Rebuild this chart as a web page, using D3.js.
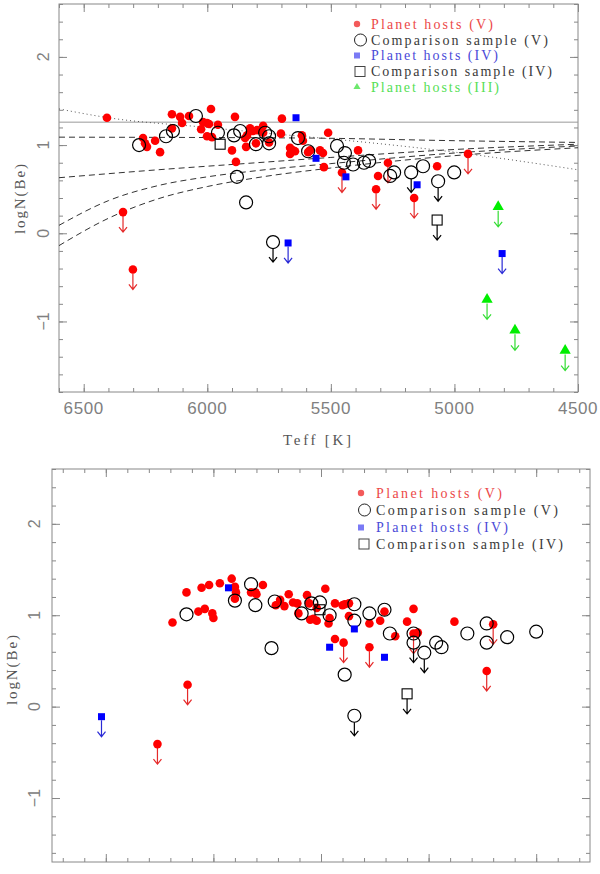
<!DOCTYPE html>
<html>
<head>
<meta charset="utf-8">
<script src="https://cdn.jsdelivr.net/npm/d3@7"></script>
<style>
  body { margin: 0; background: #fff; }
  svg text { font-family: 'Liberation Serif', 'DejaVu Serif', serif; }
  .tick-label { font-family: 'Liberation Sans', 'DejaVu Sans', sans-serif !important; fill: #808080; }
</style>
</head>
<body>
<div id="chart"></div>
<script>
// ---- top panel: logN(Be) vs Teff ----
const teffTicks = [6500, 6000, 5500, 5000, 4500];
const logTicks = [2, 1, 0, -1];

const topHostsV = [
  [6406, 1.31], [6143, 1.35], [6110, 1.32], [6074, 1.33], [5985, 1.41], [5888, 1.32], [5698, 1.30],
  [6143, 1.19], [6102, 1.25], [6025, 1.18], [6017, 1.26], [6001, 1.25], [5993, 1.24], [5957, 1.23],
  [6001, 1.10], [5981, 1.09], [6260, 1.08], [6252, 1.02], [6244, 0.98], [6211, 1.05], [6191, 0.92],
  [5900, 0.94], [5884, 0.81], [5843, 0.98], [5839, 1.11], [5827, 1.19], [5815, 1.16], [5799, 1.17],
  [5774, 1.22], [5847, 1.08], [5803, 1.02], [5750, 1.03], [5702, 1.13], [5774, 1.14], [5665, 0.97],
  [5653, 0.94], [5665, 0.90], [5645, 0.93], [5617, 1.11], [5613, 1.05], [5592, 0.92], [5584, 0.94],
  [5544, 0.94], [5532, 0.91], [5528, 0.75], [5511, 1.14], [5390, 0.94], [5309, 0.65], [5070, 0.76],
];
const topHostsVUL = [[6341, 0.24], [6301, -0.41], [5455, 0.69], [5317, 0.50], [5269, 0.80], [5163, 0.40], [4945, 0.90]];
const topCompV = [
  [6276, 1.00], [6167, 1.10], [6139, 1.16], [6046, 1.33], [5957, 1.14], [5892, 1.11], [5867, 1.16],
  [5803, 1.01], [5766, 1.14], [5750, 1.10], [5750, 1.02], [5633, 1.08], [5592, 0.93], [5475, 0.99],
  [5443, 0.91], [5447, 0.80], [5410, 0.78], [5366, 0.80], [5345, 0.82], [5260, 0.65], [5244, 0.69],
  [5127, 0.76], [5001, 0.69], [5880, 0.64], [5843, 0.35],
];
const topCompVUL = [[5734, -0.10], [5175, 0.69], [5066, 0.59]];
const topCompIV = [[5948, 1.01]];
const topCompIVUL = [[5070, 0.15]];
const topHostsIV = [[5641, 1.31], [5560, 0.85], [5439, 0.64], [5151, 0.55]];
const topHostsIVUL = [[5673, -0.11], [4807, -0.23]];
const topHostsIIIUL = [[4823, 0.30], [4868, -0.75], [4755, -1.10], [4552, -1.33]];

// model curves (dashed), dotted curve and solid reference level
const dashedCurves = [
  [[6600, 1.09], [5600, 1.08], [5000, 1.05], [4500, 1.03]],
  [[6600, 0.63], [6200, 0.72], [5800, 0.80], [5500, 0.86], [5000, 0.95], [4500, 1.01]],
  [[6600, 0.09], [6400, 0.37], [6200, 0.54], [6000, 0.64], [5800, 0.71], [5500, 0.79], [5000, 0.91], [4500, 0.99]],
  [[6600, -0.14], [6400, 0.17], [6200, 0.39], [6000, 0.53], [5800, 0.63], [5500, 0.74], [5000, 0.88], [4500, 0.97]],
];
const dottedCurve = [[6600, 1.41], [6400, 1.31], [6000, 1.20], [5700, 1.12], [5500, 1.07], [5000, 0.92], [4500, 0.72]];
const solidLevel = 1.26;

// ---- bottom panel: same stars, unlabelled abscissa ----
const botMajor = [0.5, 1.5, 2.5, 3.5, 4.5];
const botHostsV = [
  [1.12, 0.92], [1.25, 1.25], [1.36, 1.04], [1.39, 1.30], [1.42, 1.07], [1.46, 1.33], [1.49, 1.02],
  [1.50, 0.97], [1.56, 1.35], [1.67, 1.40], [1.70, 1.31], [1.71, 1.25], [1.70, 1.18], [1.85, 1.25],
  [1.89, 1.25], [1.90, 1.23], [1.96, 1.33], [2.08, 1.11], [2.12, 1.17], [2.16, 1.10], [2.20, 1.23],
  [2.24, 1.14], [2.28, 1.13], [2.29, 1.02], [2.37, 1.22], [2.39, 1.13], [2.43, 0.96], [2.46, 0.94],
  [2.40, 0.95], [2.54, 1.29], [2.46, 1.08], [2.58, 0.97], [2.57, 0.91], [2.63, 1.13], [2.70, 1.11],
  [2.72, 1.12], [2.76, 1.13], [2.76, 0.99], [2.63, 0.74], [2.95, 0.91], [3.05, 0.94], [3.09, 1.04],
  [3.36, 1.07], [3.30, 0.93], [3.40, 0.81], [3.19, 0.77], [3.74, 0.93],
];
const botHostsVUL = [[0.98, -0.41], [1.26, 0.24], [2.71, 0.70], [2.95, 0.65], [3.36, 0.80], [4.10, 0.90], [4.04, 0.39]];
const botCompV = [
  [1.25, 1.01], [1.70, 1.16], [1.85, 1.34], [1.89, 1.11], [2.07, 1.15], [2.32, 1.02], [2.41, 1.13],
  [2.49, 1.14], [2.58, 1.00], [2.04, 0.64], [2.81, 1.12], [2.81, 0.94], [2.95, 1.02], [3.09, 1.06],
  [3.14, 0.80], [3.36, 0.80], [3.57, 0.70], [3.62, 0.65], [3.86, 0.80], [4.04, 0.91], [4.04, 0.70],
  [4.23, 0.76], [4.50, 0.82], [2.72, 0.35],
];
const botCompVUL = [[3.36, 0.70], [3.46, 0.59], [2.81, -0.10]];
const botCompIV = [[2.49, 1.06]];
const botCompIVUL = [[3.30, 0.14]];
const botHostsIV = [[1.64, 1.30], [2.81, 0.85], [2.58, 0.65], [3.09, 0.54]];
const botHostsIVUL = [[0.46, -0.11]];

const legendTop = ['Planet hosts (V)', 'Comparison sample (V)', 'Planet hosts (IV)', 'Comparison sample (IV)', 'Planet hosts (III)'];
const legendBot = legendTop.slice(0, 4);

// ---- drawing ----
const COL = {
  hostV: '#ff0000', hostVArrow: '#e52a2a', hostVText: '#ec4848',
  comp: '#000', compText: '#3a3a3a',
  hostIV: '#0000ff', hostIVArrow: '#2a2ad6', hostIVText: '#4a4ad8',
  hostIII: '#00ee00', hostIIIArrow: '#33dd33', hostIIIText: '#55e055',
  axis: '#888',
};

const svg = d3.select('#chart').append('svg').attr('width', 600).attr('height', 874);

function frame(x, y, xMajor, xMinor, yMajor, yMinor) {
  const g = svg.append('g');
  const [xl, xr] = x.range();
  const [yb, yt] = y.range();
  const sides = [
    [d3.axisBottom(x), `translate(0,${yb})`, xMajor, xMinor],
    [d3.axisTop(x), `translate(0,${yt})`, xMajor, xMinor],
    [d3.axisLeft(y), `translate(${xl},0)`, yMajor, yMinor],
    [d3.axisRight(y), `translate(${xr},0)`, yMajor, yMinor],
  ];
  sides.forEach(([axis, tr, major, minor]) => {
    [[minor, -4], [major, -8]].forEach(([vals, size]) => {
      const a = g.append('g').attr('transform', tr)
        .call(axis.tickValues(vals).tickSize(size).tickSizeOuter(0).tickFormat(''));
      a.select('.domain').remove();
      a.selectAll('line').attr('stroke', COL.axis).attr('stroke-width', 1);
    });
  });
  g.append('rect').attr('x', xl).attr('y', yt).attr('width', xr - xl).attr('height', yb - yt)
    .attr('fill', 'none').attr('stroke', COL.axis).attr('stroke-width', 1);
  return g;
}

function arrows(g, data, x, y, off, color) {
  g.append('g').selectAll('path').data(data).join('path')
    .attr('d', (d) => {
      const px = x(d[0]), py = y(d[1]);
      return `M${px},${py + off}V${py + 20}M${px - 4},${py + 15}L${px},${py + 20}L${px + 4},${py + 15}`;
    })
    .attr('fill', 'none').attr('stroke', color).attr('stroke-width', 1.2);
}

function dots(g, data, x, y) {
  g.append('g').selectAll('circle').data(data).join('circle')
    .attr('cx', (d) => x(d[0])).attr('cy', (d) => y(d[1])).attr('r', 4.3).attr('fill', COL.hostV);
}
function rings(g, data, x, y) {
  g.append('g').selectAll('circle').data(data).join('circle')
    .attr('cx', (d) => x(d[0])).attr('cy', (d) => y(d[1])).attr('r', 6.5)
    .attr('fill', 'none').attr('stroke', COL.comp).attr('stroke-width', 1.2);
}
function boxes(g, data, x, y, s, fill) {
  g.append('g').selectAll('rect').data(data).join('rect')
    .attr('x', (d) => x(d[0]) - s / 2).attr('y', (d) => y(d[1]) - s / 2)
    .attr('width', s).attr('height', s)
    .attr('fill', fill || 'none').attr('stroke', fill ? 'none' : COL.comp).attr('stroke-width', 1.1);
}
function tris(g, data, x, y) {
  g.append('g').selectAll('path').data(data).join('path')
    .attr('d', d3.symbol(d3.symbolTriangle, 55))
    .attr('transform', (d) => `translate(${x(d[0])},${y(d[1])})`).attr('fill', COL.hostIII);
}

function stars(g, x, y, s) {
  arrows(g, s.hostsVUL, x, y, 4, COL.hostVArrow);
  arrows(g, s.compVUL, x, y, 6.5, COL.comp);
  arrows(g, s.compIVUL, x, y, 5, COL.comp);
  arrows(g, s.hostsIVUL, x, y, 3.5, COL.hostIVArrow);
  if (s.hostsIIIUL) arrows(g, s.hostsIIIUL, x, y, 4, COL.hostIIIArrow);
  dots(g, s.hostsV.concat(s.hostsVUL), x, y);
  rings(g, s.compV.concat(s.compVUL), x, y);
  boxes(g, s.compIV.concat(s.compIVUL), x, y, 10);
  boxes(g, s.hostsIV.concat(s.hostsIVUL), x, y, 7, COL.hostIV);
  if (s.hostsIIIUL) tris(g, s.hostsIIIUL, x, y);
}

function legend(labels, sx, tx, rows, widths) {
  const g = svg.append('g');
  const colors = [COL.hostVText, COL.compText, COL.hostIVText, COL.compText, COL.hostIIIText];
  labels.forEach((t, i) => {
    const cy = rows[i];
    if (i === 0) g.append('circle').attr('cx', sx).attr('cy', cy).attr('r', 3.2).attr('fill', '#f35a5a');
    if (i === 1) g.append('circle').attr('cx', sx + 3.5).attr('cy', cy).attr('r', 6).attr('fill', 'none').attr('stroke', '#222').attr('stroke-width', 1);
    if (i === 2) g.append('rect').attr('x', sx - 3).attr('y', cy - 3).attr('width', 6).attr('height', 6).attr('fill', '#7a7af5');
    if (i === 3) g.append('rect').attr('x', sx - 2).attr('y', cy - 5).attr('width', 10).attr('height', 10).attr('fill', 'none').attr('stroke', '#444').attr('stroke-width', 1);
    if (i === 4) g.append('path').attr('d', d3.symbol(d3.symbolTriangle, 22)).attr('transform', `translate(${sx},${cy})`).attr('fill', '#6de86d');
    g.append('text').attr('x', tx).attr('y', cy + 4.5).attr('font-size', 14)
      .attr('fill', colors[i]).attr('textLength', widths[i]).attr('lengthAdjust', 'spacing').text(t);
  });
}

function yLabels(y, lx) {
  svg.append('g').selectAll('text').data(logTicks).join('text')
    .attr('class', 'tick-label')
    .attr('transform', (d) => `translate(${lx},${y(d)}) rotate(-90)`)
    .attr('text-anchor', 'middle').attr('dy', '0.36em').attr('font-size', 16)
    .text((d) => (d < 0 ? '\u2212' + Math.abs(d) : d));
}

function yTitle(cx, cy) {
  svg.append('text').attr('transform', `translate(${cx},${cy}) rotate(-90)`)
    .attr('text-anchor', 'middle').attr('dy', '0.35em').attr('font-size', 15).attr('fill', '#555')
    .attr('textLength', 70).attr('lengthAdjust', 'spacing').text('logN(Be)');
}

// top panel
const xT = d3.scaleLinear().domain([6600, 4500]).range([59, 578]);
const yT = d3.scaleLinear().domain([-1.8, 2.6]).range([392, 4]);
const topPanel = frame(xT, yT, teffTicks, d3.range(6600, 4499, -100), logTicks, d3.range(-1.8, 2.61, 0.2));

const lineT = d3.line().x((d) => xT(d[0])).y((d) => yT(d[1])).curve(d3.curveMonotoneX);
topPanel.append('line').attr('x1', xT(6600)).attr('x2', xT(4500)).attr('y1', yT(solidLevel)).attr('y2', yT(solidLevel))
  .attr('stroke', '#999').attr('stroke-width', 1);
topPanel.append('path').datum(dottedCurve).attr('d', lineT).attr('fill', 'none')
  .attr('stroke', '#555').attr('stroke-width', 1).attr('stroke-dasharray', '1,3');
topPanel.append('g').selectAll('path').data(dashedCurves).join('path').attr('d', lineT).attr('fill', 'none')
  .attr('stroke', '#333').attr('stroke-width', 1).attr('stroke-dasharray', '6,4');

stars(topPanel, xT, yT, {
  hostsV: topHostsV, hostsVUL: topHostsVUL, compV: topCompV, compVUL: topCompVUL,
  compIV: topCompIV, compIVUL: topCompIVUL, hostsIV: topHostsIV, hostsIVUL: topHostsIVUL,
  hostsIIIUL: topHostsIIIUL,
});

svg.append('g').selectAll('text').data(teffTicks).join('text')
  .attr('class', 'tick-label').attr('x', (d) => xT(d)).attr('y', 414)
  .attr('text-anchor', 'middle').attr('font-size', 17).attr('letter-spacing', 0.6).text((d) => d);
yLabels(yT, 43);
yTitle(20, 199);
svg.append('text').attr('x', 317).attr('y', 445).attr('text-anchor', 'middle').attr('font-size', 15)
  .attr('fill', '#555').attr('textLength', 68).attr('lengthAdjust', 'spacing').text('Teff [K]');
legend(legendTop, 357, 371, [24, 40, 55.5, 71.5, 87], [122, 177, 127, 181, 128]);

// bottom panel
const xB = d3.scaleLinear().domain([0, 5]).range([52, 590]);
const yB = d3.scaleLinear().domain([-1.7, 2.6]).range([862, 469]);
const botPanel = frame(xB, yB, botMajor, d3.range(0.1, 5, 0.2), logTicks, d3.range(-1.6, 2.61, 0.2));
stars(botPanel, xB, yB, {
  hostsV: botHostsV, hostsVUL: botHostsVUL, compV: botCompV, compVUL: botCompVUL,
  compIV: botCompIV, compIVUL: botCompIVUL, hostsIV: botHostsIV, hostsIVUL: botHostsIVUL,
});
yLabels(yB, 34);
yTitle(12, 670);
legend(legendBot, 361, 376, [493, 510, 527.5, 544], [126, 182, 132, 187]);
</script>
</body>
</html>
